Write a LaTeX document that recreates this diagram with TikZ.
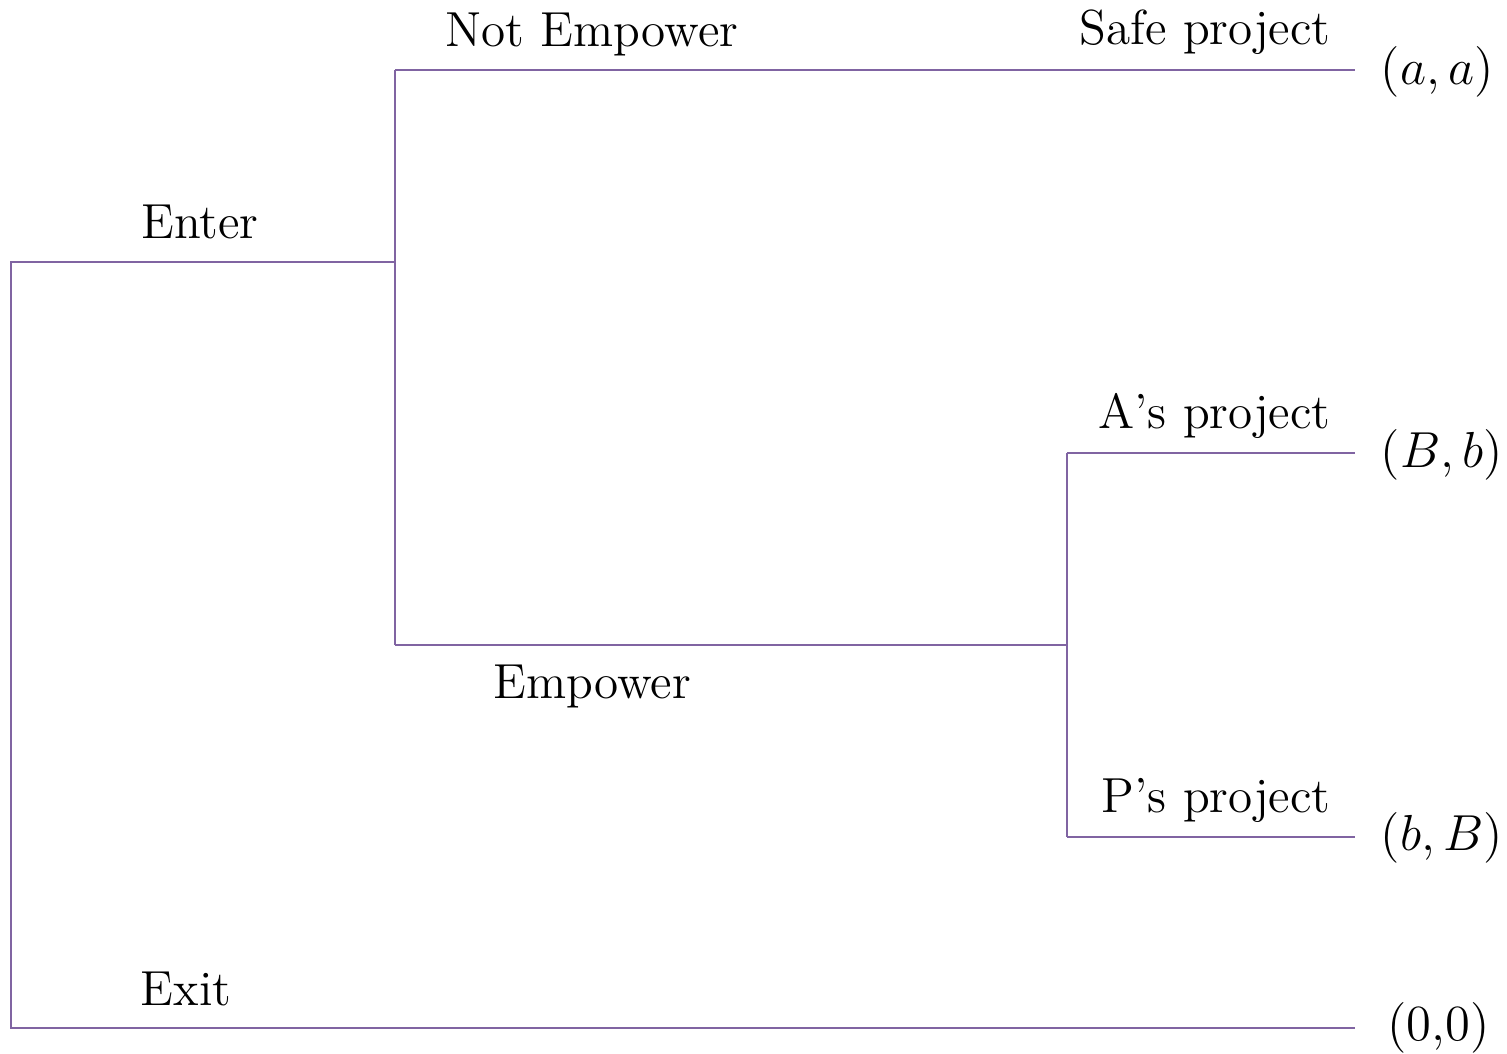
\documentclass[tikz,border=0pt]{standalone}
\usepackage{tikz}
\definecolor{tree}{RGB}{128,100,162}

\begin{document}
\begin{tikzpicture}[
  x=0.01cm, y=-0.01cm,
  font=\fontsize{14}{16}\selectfont,
  br/.style={draw=tree, line width=0.55pt},
  lbl/.style={inner sep=0pt, anchor=base},
  rl/.style={inner sep=0pt, anchor=base east},
  pay/.style={inner sep=0pt, anchor=west, font=\fontsize{14}{16}\selectfont}
]
\useasboundingbox (0,0) rectangle (1507,1053);

% decision points
\coordinate (root) at (11,262);
\coordinate (rootb) at (11,1028);
\coordinate (d1) at (395,262);
\coordinate (d1t) at (395,70);
\coordinate (d1b) at (395,645);
\coordinate (d2) at (1067,645);
\coordinate (d2t) at (1067,453);
\coordinate (d2b) at (1067,837);

% outcomes
\node[pay] (safe) at (1380,72) {$(a,a)$};
\node[pay] (agent) at (1380,455) {$(B,b)$};
\node[pay] (princ) at (1380,838) {$(b,B)$};
\node[pay] (out) at (1387,1028) {$(0{,}0)$};
\coordinate (safee) at (1355,70);
\coordinate (agente) at (1355,453);
\coordinate (prince) at (1355,837);
\coordinate (oute) at (1355,1028);

\draw[br] (d1) -- (root) -- (rootb) -- (oute);
\draw[br] (d1t) -- (d1b);
\draw[br] (d1t) -- (safee);
\draw[br] (d1b) -- (d2);
\draw[br] (d2t) -- (d2b);
\draw[br] (d2t) -- (agente);
\draw[br] (d2b) -- (prince);

\node[lbl] (enter) at (200,238) {Enter};
\node[lbl] (exit) at (186,1005) {Exit};
\node[lbl] (notemp) at (592,46) {Not Empower};
\node[lbl] (emp) at (592,698) {Empower};
\node[rl] (safelbl) at (1331,44) {Safe project};
\node[rl] (agentlbl) at (1331,428) {A'{}s project};
\node[rl] (princlbl) at (1331,812) {P'{}s project};
\end{tikzpicture}
\end{document}
